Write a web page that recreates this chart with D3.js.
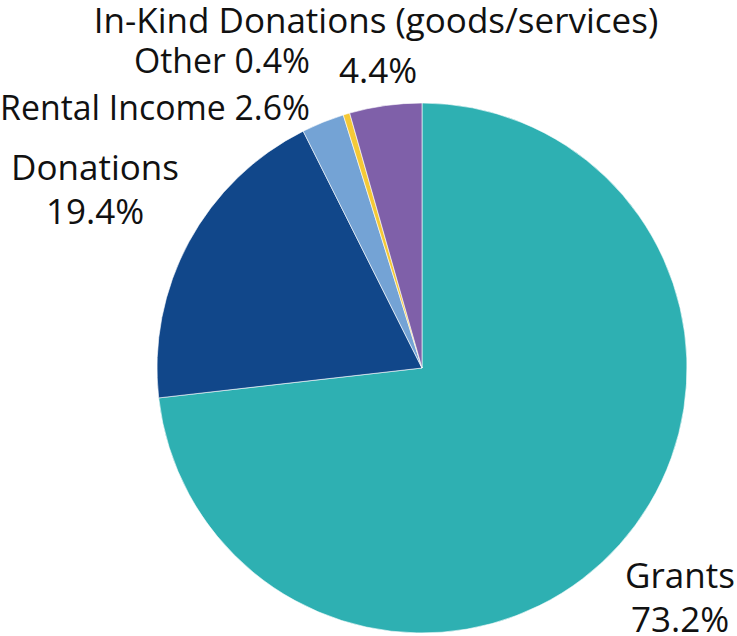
<!DOCTYPE html>
<html><head><meta charset="utf-8">
<script src="https://cdn.jsdelivr.net/npm/d3@7"></script>
<style>body{margin:0;background:#fff}svg{display:block}text{font-family:"Open Sans",sans-serif;font-size:35px;fill:#111}</style>
</head><body><svg id="c" width="737" height="636"></svg>
<script>
const categories = ["Grants","Donations","Rental Income","Other","In-Kind Donations (goods/services)"];
const values = [73.2, 19.4, 2.6, 0.4, 4.4];
const colors = ["#2EB0B2","#11478A","#74A3D5","#F5C936","#7F60A9"];
const labelLines = [["Grants","73.2%"],["Donations","19.4%"],["Rental Income 2.6%"],["Other 0.4%"],["In-Kind Donations (goods/services)","4.4%"]];
const labelPos = [[680,588,"middle",35],[95,180,"middle",35],[310,120,"end",33.8],[310,73,"end",33.8],[376,33,"middle",35]];
const labelPos2 = [null,null,null,null,[378,83]];

const svg = d3.select("#c");
const cx = 422, cy = 368, r = 265;
const data = categories.map((c,i)=>({c, v: values[i], i}));
const pie = d3.pie().value(d=>d.v).sort(null).startAngle(0).endAngle(2*Math.PI);
const arc = d3.arc().innerRadius(0).outerRadius(r);
const g = svg.append("g").attr("transform",`translate(${cx},${cy})`);
g.selectAll("path").data(pie(data)).join("path")
  .attr("d",arc).attr("fill",d=>colors[d.data.i])
  .attr("stroke","#fff").attr("stroke-width",0.6);

data.forEach((d,i)=>{
  const [x,y,anchor,fs] = labelPos[i];
  const lines = labelLines[i];
  lines.forEach((t,k)=>{
    let px = x, py = y + k*44;
    if (k>0 && labelPos2[i]) { px = labelPos2[i][0]; py = labelPos2[i][1]; }
    svg.append("text").attr("x",px).attr("y",py).attr("text-anchor",anchor)
      .style("font-size",fs+"px").text(t);
  });
});
</script></body></html>
